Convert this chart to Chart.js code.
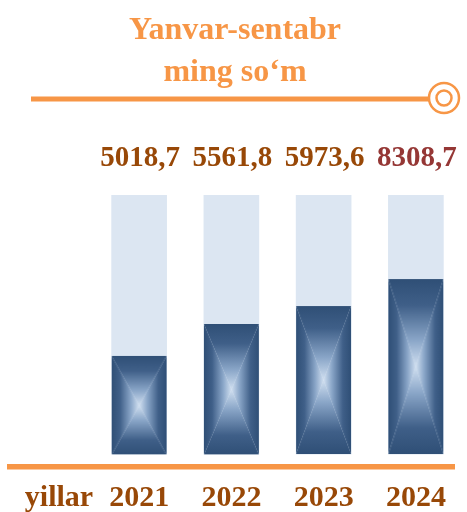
<!DOCTYPE html>
<html>
<head>
<meta charset="utf-8">
<script src="https://cdn.jsdelivr.net/npm/chart.js@4/dist/chart.umd.min.js"></script>
<style>
  html, body { margin: 0; padding: 0; background: #fff; }
  canvas { display: block; }
</style>
</head>
<body>
<canvas id="chart" width="467" height="512"></canvas>
<script>
// data
const years = ['2021', '2022', '2023', '2024'];
const valueLabels = ['5018,7', '5561,8', '5973,6', '8308,7'];
// filled share of each bar track (track = 100)
const barLevels = [38, 50.3, 57.2, 67.6];
const trackLevels = [100, 100, 100, 100];
const titleLines = ['Yanvar-sentabr', 'ming so‘m'];
const axisCaption = 'yillar';

const ORANGE = '#F79646';
const BROWN = '#984807';
const labelColors = [BROWN, BROWN, BROWN, '#953735'];
const SERIF = '"Liberation Serif", "Times New Roman", serif';
const BAR_W = 55;

// rectangular "from centre" gradient, built as 4 triangles
function makeBarPattern(ctx, w, h) {
  const c = document.createElement('canvas');
  c.width = Math.max(1, Math.round(w));
  c.height = Math.max(1, Math.round(h));
  const g = c.getContext('2d');
  const W = c.width, H = c.height;
  const cx = W / 2, cy = H / 2;
  const tri = (pts, x0, y0, x1, y1) => {
    const gr = g.createLinearGradient(x0, y0, x1, y1);
    gr.addColorStop(0, '#2f4f76');
    gr.addColorStop(0.3, '#3f5f88');
    gr.addColorStop(0.7, '#8aa6c8');
    gr.addColorStop(1, '#d0dff0');
    g.fillStyle = gr;
    g.beginPath();
    g.moveTo(pts[0][0], pts[0][1]);
    for (let i = 1; i < pts.length; i++) g.lineTo(pts[i][0], pts[i][1]);
    g.closePath();
    g.fill();
  };
  tri([[0, 0], [W, 0], [cx, cy]], cx, 0, cx, cy);
  tri([[0, H], [W, H], [cx, cy]], cx, H, cx, cy);
  tri([[0, 0], [0, H], [cx, cy]], 0, cy, cx, cy);
  tri([[W, 0], [W, H], [cx, cy]], W, cy, cx, cy);
  return ctx.createPattern(c, 'no-repeat');
}

function barFill(context) {
  const chart = context.chart;
  const xs = chart.scales.x, ys = chart.scales.y;
  if (!chart.chartArea || !xs || !ys || context.dataIndex === undefined) return '#2f4f76';
  const i = context.dataIndex;
  const cx = xs.getPixelForValue(i);
  const top = ys.getPixelForValue(barLevels[i]);
  const base = ys.getPixelForValue(0);
  const p = makeBarPattern(chart.ctx, BAR_W, base - top);
  p.setTransform(new DOMMatrix().translate(cx - BAR_W / 2, top));
  return p;
}

const decorations = {
  id: 'decorations',
  beforeDraw(chart) {
    const ctx = chart.ctx;
    ctx.save();
    // title
    ctx.fillStyle = ORANGE;
    ctx.font = 'bold 32px ' + SERIF;
    ctx.textAlign = 'center';
    ctx.textBaseline = 'alphabetic';
    ctx.fillText(titleLines[0], 235, 39);
    ctx.fillText(titleLines[1], 235, 81);
    // rule with ring
    ctx.strokeStyle = ORANGE;
    ctx.lineWidth = 5;
    ctx.beginPath();
    ctx.moveTo(31, 99);
    ctx.lineTo(429, 99);
    ctx.stroke();
    ctx.lineWidth = 2.5;
    ctx.beginPath();
    ctx.arc(444, 98, 15, 0, Math.PI * 2);
    ctx.stroke();
    ctx.beginPath();
    ctx.arc(444, 98, 7.5, 0, Math.PI * 2);
    ctx.stroke();
    ctx.restore();
  },
  afterDatasetsDraw(chart) {
    const ctx = chart.ctx;
    const xs = chart.scales.x, ys = chart.scales.y;
    ctx.save();
    // base line
    ctx.fillStyle = ORANGE;
    ctx.fillRect(7, 464, 448, 5.5);
    // value labels above the tracks
    ctx.font = 'bold 29px ' + SERIF;
    ctx.textAlign = 'center';
    ctx.textBaseline = 'alphabetic';
    valueLabels.forEach((t, i) => {
      ctx.fillStyle = labelColors[i];
      ctx.fillText(t, xs.getPixelForValue(i) + 1, ys.getPixelForValue(100) - 29);
    });
    // axis caption
    ctx.fillStyle = BROWN;
    ctx.font = 'bold 30px ' + SERIF;
    ctx.fillText(axisCaption, 59, 506);
    ctx.restore();
  }
};

new Chart(document.getElementById('chart'), {
  type: 'bar',
  data: {
    labels: years,
    datasets: [
      {
        data: barLevels,
        backgroundColor: barFill,
        borderWidth: 0,
        barThickness: BAR_W
      },
      {
        data: trackLevels,
        backgroundColor: '#dce6f2',
        borderWidth: 0,
        barThickness: BAR_W
      }
    ]
  },
  options: {
    responsive: false,
    animation: false,
    layout: { padding: { top: 195, left: 93, right: 5, bottom: 0 } },
    plugins: {
      legend: { display: false },
      title: { display: false },
      tooltip: { enabled: false }
    },
    scales: {
      x: {
        stacked: true,
        grid: { display: false, drawTicks: false },
        border: { display: false },
        afterFit(scale) {
          scale.height = 57.5;
          scale.paddingLeft = 0;
          scale.paddingRight = 0;
        },
        ticks: {
          color: BROWN,
          padding: 26,
          font: { family: SERIF, size: 30, weight: 'bold' }
        }
      },
      y: {
        display: false,
        stacked: false,
        min: 0,
        max: 100
      }
    }
  },
  plugins: [decorations]
});
</script>
</body>
</html>
